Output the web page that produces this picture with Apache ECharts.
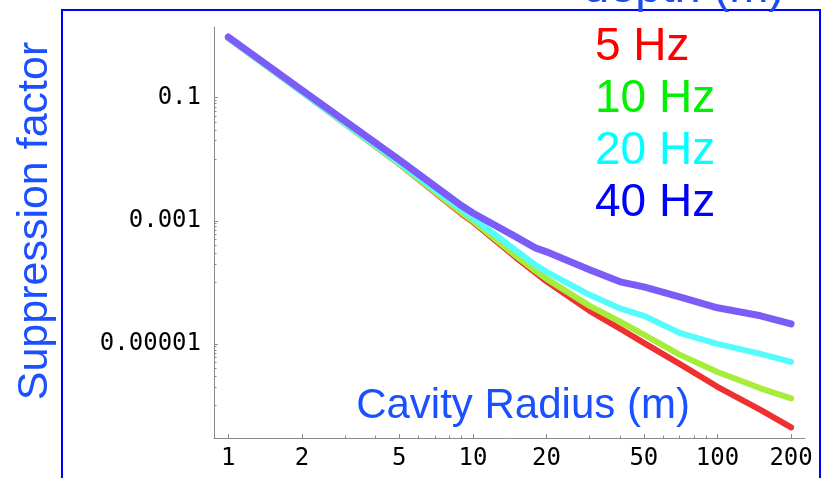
<!DOCTYPE html>
<html>
<head>
<meta charset="utf-8">
<title>Suppression factor vs cavity radius</title>
<script src="https://cdn.jsdelivr.net/npm/echarts@6/dist/echarts.min.js"></script>
<style>
  html, body { margin: 0; padding: 0; background: #fff; }
  #chart { width: 823px; height: 478px; }
</style>
</head>
<body>
<div id="chart"></div>
<script>
// cavity radius (m)
var radius = [1, 2, 5, 9, 10, 15, 18, 20, 30, 40, 50, 70, 100, 150, 200];
// suppression factor, one list per frequency
var hz5  = [0.93, 0.124, 0.0084, 0.00129, 0.00096, 0.000253, 0.000144, 0.000104, 0.0000344, 0.0000176, 0.0000104, 0.00000475, 0.00000201, 0.00000085, 0.00000044];
var hz10 = [0.93, 0.124, 0.0084, 0.00134, 0.000996, 0.000269, 0.000154, 0.000114, 0.0000415, 0.0000229, 0.0000141, 0.0000067, 0.0000035, 0.0000019, 0.0000013];
var hz20 = [0.93, 0.124, 0.0087, 0.0015, 0.00111, 0.00033, 0.000192, 0.000148, 0.0000627, 0.0000377, 0.0000286, 0.0000151, 0.00001, 0.0000069, 0.0000051];
var hz40 = [0.966, 0.133, 0.00975, 0.00175, 0.00134, 0.000548, 0.000363, 0.000313, 0.00016, 0.000102, 0.0000845, 0.0000582, 0.0000386, 0.0000286, 0.0000212];

var seriesNames = ['5 Hz', '10 Hz', '20 Hz', '40 Hz'];
var lineColors = ['#f03030', '#a6ec3a', '#55fcfc', '#7b5cf6'];
var legendColors = ['#ff0000', '#00f000', '#00ffff', '#0000ff'];

// tick marks and labels
var xMajorTicks = [1, 2, 5, 10, 20, 50, 100, 200];
var xTickLabels = ['1', '2', '5', '10', '20', '50', '100', '200'];
var xMinorTicks = [3, 4, 6, 7, 8, 9, 30, 40, 60, 70, 80, 90];
var yMajorTicks = [0.1, 0.001, 0.00001];
var yTickLabels = ['0.1', '0.001', '0.00001'];
var yMinorTicks = [0.09, 0.08, 0.07, 0.06, 0.05, 0.04, 0.03, 0.02, 0.01,
                   0.0009, 0.0008, 0.0007, 0.0006, 0.0005, 0.0004, 0.0003, 0.0002, 0.0001,
                   0.000009, 0.000008, 0.000007, 0.000006, 0.000005, 0.000004, 0.000003, 0.000002, 0.000001];

var xMin = 0.874, xMax = 228;
var yMin = 2.96e-7, yMax = 1.406;

function pickLabel(values, labels, v) {
  var best = 0;
  for (var i = 1; i < values.length; i++) {
    if (Math.abs(Math.log(values[i] / v)) < Math.abs(Math.log(values[best] / v))) best = i;
  }
  return labels[best];
}

function pairs(ys) {
  return radius.map(function (r, i) { return [r, ys[i]]; });
}

var tickFont = { fontFamily: 'DejaVu Sans Mono', fontSize: 24, color: '#000' };
var axisGrey = '#8a8a8a';

var myChart = echarts.init(document.getElementById('chart'));

var option = {
  animation: false,
  backgroundColor: '#ffffff',
  grid: { left: 214, right: 18, top: 27, bottom: 40, containLabel: false },
  legend: {
    orient: 'vertical',
    left: 585,
    top: 16,
    icon: 'none',
    itemWidth: 0,
    itemGap: 0,
    selectedMode: false,
    textStyle: { fontFamily: 'Liberation Sans', fontSize: 46, lineHeight: 52 },
    data: seriesNames.map(function (n, i) {
      return { name: n, textStyle: { color: legendColors[i] } };
    })
  },
  xAxis: [{
    type: 'log', position: 'bottom', min: xMin, max: xMax,
    axisLine: { lineStyle: { color: axisGrey, width: 1 } },
    axisTick: { inside: true, length: 4, customValues: xMajorTicks, lineStyle: { color: axisGrey } },
    axisLabel: Object.assign({
      customValues: xMajorTicks, margin: 9,
      formatter: function (v) { return pickLabel(xMajorTicks, xTickLabels, v); }
    }, tickFont),
    splitLine: { show: false }
  }, {
    type: 'log', position: 'bottom', min: xMin, max: xMax,
    axisLine: { show: false },
    axisTick: { inside: true, length: 2.5, customValues: xMinorTicks, lineStyle: { color: axisGrey } },
    axisLabel: { show: false },
    splitLine: { show: false }
  }],
  yAxis: [{
    type: 'log', position: 'left', min: yMin, max: yMax,
    axisLine: { show: true, lineStyle: { color: axisGrey, width: 1 } },
    axisTick: { show: true, inside: true, length: 4, customValues: yMajorTicks, lineStyle: { color: axisGrey } },
    axisLabel: Object.assign({
      customValues: yMajorTicks, margin: 13,
      formatter: function (v) { return pickLabel(yMajorTicks, yTickLabels, v); }
    }, tickFont),
    splitLine: { show: false }
  }, {
    type: 'log', position: 'left', min: yMin, max: yMax,
    axisLine: { show: false },
    axisTick: { show: true, inside: true, length: 2.5, customValues: yMinorTicks, lineStyle: { color: axisGrey } },
    axisLabel: { show: false },
    splitLine: { show: false }
  }],
  series: [hz5, hz10, hz20, hz40].map(function (ys, i) {
    return {
      name: seriesNames[i],
      type: 'line',
      data: pairs(ys),
      showSymbol: false,
      symbol: 'none',
      color: lineColors[i],
      lineStyle: { color: lineColors[i], width: i === 3 ? 7 : 6, cap: 'round', join: 'round' },
      emphasis: { disabled: true },
      z: 2 + i
    };
  }),
  graphic: [
    {
      type: 'rect', z: 100, silent: true,
      shape: { x: 62, y: 10, width: 758, height: 480 },
      style: { fill: 'none', stroke: '#0000ff', lineWidth: 2 }
    },
    {
      type: 'text', z: 100, silent: true,
      x: 35, y: 221, rotation: Math.PI / 2,
      style: { text: 'Suppression factor', fill: '#1a50ff', font: '43px "Liberation Sans"', align: 'center', verticalAlign: 'middle' }
    },
    {
      type: 'text', z: 100, silent: true,
      x: 523, y: 406,
      style: { text: 'Cavity Radius (m)', fill: '#1a50ff', font: '42px "Liberation Sans"', align: 'center', verticalAlign: 'middle' }
    },
    {
      type: 'text', z: 100, silent: true,
      x: 583, y: -11,
      style: { text: 'depth (m)', fill: '#1a4cf0', font: '47px "Liberation Sans"', align: 'left', verticalAlign: 'middle' }
    }
  ]
};

myChart.setOption(option);
</script>
</body>
</html>
